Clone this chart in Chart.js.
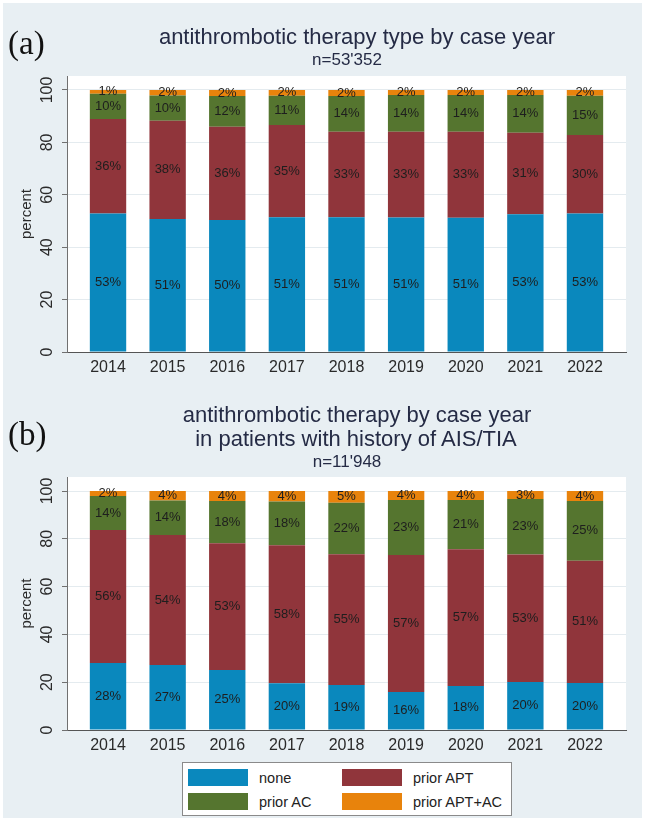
<!DOCTYPE html>
<html>
<head>
<meta charset="utf-8">
<script src="https://cdn.jsdelivr.net/npm/chart.js@4.4.1/dist/chart.umd.min.js"></script>
<style>
html,body{margin:0;padding:0;background:#ffffff;}
#wrap{position:relative;width:648px;height:825px;overflow:hidden;background:#ffffff;}
#bg{position:absolute;left:3px;top:3px;width:639px;height:815px;background:#e8eff3;}
.cv{position:absolute;left:0;width:648px;}
.t{position:absolute;font-family:"Liberation Sans",Arial,sans-serif;color:#252b45;white-space:nowrap;transform:translate(-50%,-50%);z-index:5;}
.lab{position:absolute;font-family:"Liberation Serif","Times New Roman",serif;font-size:33px;color:#111;transform:translate(0,-50%);z-index:5;}
#legend{position:absolute;left:182px;top:762px;width:328px;height:52px;background:#ffffff;border:1px solid #8a8a8a;z-index:5;font-family:"Liberation Sans",Arial,sans-serif;font-size:14.5px;color:#222;}
.sw{position:absolute;width:60px;height:17px;}
.lt{position:absolute;transform:translate(0,-50%);white-space:nowrap;}
</style>
</head>
<body>
<div id="wrap">
  <div id="bg"></div>
  <div class="cv" style="top:0;height:390px;"><canvas id="chartA" width="648" height="390"></canvas></div>
  <div class="cv" style="top:400px;height:370px;"><canvas id="chartB" width="648" height="370"></canvas></div>
  <div class="lab" style="left:8px;top:43px;">(a)</div>
  <div class="t" style="left:357px;top:37px;font-size:22px;">antithrombotic therapy type by case year</div>
  <div class="t" style="left:347px;top:60px;font-size:17px;">n=53'352</div>
  <div class="lab" style="left:8px;top:434px;">(b)</div>
  <div class="t" style="left:357px;top:415px;font-size:22px;">antithrombotic therapy by case year</div>
  <div class="t" style="left:356px;top:439px;font-size:22px;">in patients with history of AIS/TIA</div>
  <div class="t" style="left:347px;top:462px;font-size:17px;">n=11'948</div>
  <div id="legend"></div>
</div>
<script>
// ---- data ----
const years = ['2014','2015','2016','2017','2018','2019','2020','2021','2022'];
const seriesNames = ['none','prior APT','prior AC','prior APT+AC'];
const seriesColors = ['#0a88bd','#90353b','#55752f','#e8830c'];

// panel (a): all cases
const aNone   = [52.9, 50.8, 50.4, 51.4, 51.4, 51.3, 51.2, 52.6, 52.9];
const aAPT    = [36.0, 37.5, 35.6, 35.2, 32.7, 32.8, 32.9, 31.1, 29.9];
const aAC     = [ 9.7,  9.6, 11.7, 11.2, 13.6, 14.0, 14.0, 14.4, 15.0];
const aAPTAC  = [ 1.4,  2.1,  2.3,  2.2,  2.3,  1.9,  1.9,  1.9,  2.2];

// panel (b): patients with history of AIS/TIA
const bNone   = [28.0, 27.2, 25.1, 19.6, 18.8, 15.9, 18.4, 20.1, 19.7];
const bAPT    = [55.7, 54.4, 53.0, 57.7, 54.7, 57.3, 57.2, 53.3, 51.1];
const bAC     = [14.2, 14.4, 17.7, 18.3, 21.6, 23.0, 20.6, 23.3, 25.0];
const bAPTAC  = [ 2.1,  4.0,  4.2,  4.4,  4.9,  3.8,  3.8,  3.3,  4.2];

const yTicks = [0, 20, 40, 60, 80, 100];

// ---- helpers ----
const FONT = '"Liberation Sans", Arial, sans-serif';
const xVals = years.map(y => parseInt(y, 10));

function makeDatasets(arrs){
  return arrs.map((arr, i) => ({
    label: seriesNames[i],
    data: arr.map((v, j) => ({x: xVals[j], y: v})),
    backgroundColor: seriesColors[i],
    borderWidth: 0,
    categoryPercentage: 1.0,
    barPercentage: 0.61
  }));
}

const plotBg = {
  id: 'plotBg',
  beforeDraw(chart){
    const {ctx, chartArea: a} = chart;
    ctx.save();
    ctx.fillStyle = '#ffffff';
    ctx.fillRect(a.left, a.top, a.right - a.left, a.bottom - a.top);
    ctx.restore();
  }
};

const barLabels = {
  id: 'barLabels',
  afterDatasetsDraw(chart){
    const ctx = chart.ctx;
    ctx.save();
    ctx.font = '13px ' + FONT;
    ctx.fillStyle = '#1e1e1e';
    ctx.textAlign = 'center';
    ctx.textBaseline = 'middle';
    chart.data.datasets.forEach((ds, i) => {
      const meta = chart.getDatasetMeta(i);
      meta.data.forEach((el, j) => {
        const v = ds.data[j].y;
        ctx.fillText(Math.round(v) + '%', el.x, (el.y + el.base) / 2);
      });
    });
    ctx.restore();
  }
};

function makeChart(id, arrs, yMax, xAxisHeight, padTop){
  return new Chart(document.getElementById(id), {
    type: 'bar',
    data: { datasets: makeDatasets(arrs) },
    options: {
      responsive: false,
      animation: false,
      layout: { padding: { top: padTop, right: 22, bottom: 0, left: 0 } },
      plugins: { legend: { display: false }, tooltip: { enabled: false }, title: { display: false } },
      scales: {
        x: {
          type: 'linear',
          stacked: true,
          offset: false,
          min: 2013.312,
          max: 2022.688,
          afterBuildTicks: s => { s.ticks = xVals.map(v => ({value: v})); },
          afterFit: s => { s.height = xAxisHeight; },
          grid: { display: false, drawTicks: false, offset: false },
          border: { display: true, color: '#555555', width: 1 },
          ticks: {
            padding: 6,
            color: '#2a2a2a',
            font: { family: FONT, size: 16 },
            maxRotation: 0,
            autoSkip: false,
            callback: (v) => years[xVals.indexOf(v)]
          }
        },
        y: {
          stacked: true,
          min: 0,
          max: yMax,
          afterBuildTicks: s => { s.ticks = yTicks.map(v => ({value: v})); },
          afterFit: s => { s.width = 67; },
          grid: { color: '#e4ebef', lineWidth: 1, drawTicks: true, tickLength: 5, tickColor: '#707070' },
          border: { display: true, color: '#707070', width: 1 },
          ticks: {
            padding: 1,
            color: '#2a2a2a',
            font: { family: FONT, size: 16 },
            minRotation: 90,
            maxRotation: 90,
            crossAlign: 'center',
            callback: (v) => String(v)
          },
          title: {
            display: true,
            text: 'percent',
            color: '#2a2a2a',
            font: { family: FONT, size: 15 },
            padding: { top: 18, bottom: 0 }
          }
        }
      }
    },
    plugins: [plotBg, barLabels]
  });
}

makeChart('chartA', [aNone, aAPT, aAC, aAPTAC], 105.34, 38, 76);
makeChart('chartB', [bNone, bAPT, bAC, bAPTAC], 105.86, 40, 77);

// ---- HTML legend ----
const legend = document.getElementById('legend');
const pos = [ {sx:5, sy:6, tx:76, ty:15}, {sx:159, sy:6, tx:230, ty:15},
              {sx:5, sy:30, tx:76, ty:39}, {sx:159, sy:30, tx:230, ty:39} ];
seriesNames.forEach((name, i) => {
  const sw = document.createElement('div');
  sw.className = 'sw';
  sw.style.left = pos[i].sx + 'px'; sw.style.top = pos[i].sy + 'px';
  sw.style.background = seriesColors[i];
  legend.appendChild(sw);
  const t = document.createElement('div');
  t.className = 'lt';
  t.style.left = pos[i].tx + 'px'; t.style.top = pos[i].ty + 'px';
  t.textContent = name;
  legend.appendChild(t);
});
</script>
</body>
</html>
